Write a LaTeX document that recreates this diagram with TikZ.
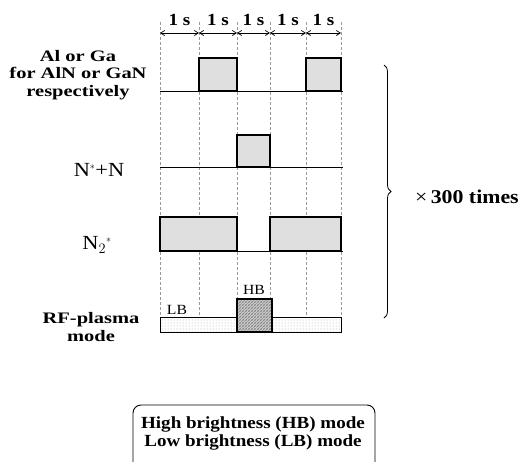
\documentclass[tikz,border=0pt]{standalone}
\usepackage{fontspec}
\setmainfont[FakeStretch=1.12]{Liberation Serif}
\newfontfamily\widefont[FakeStretch=1.28]{Liberation Serif}
\usetikzlibrary{patterns,decorations.pathreplacing,arrows.meta,calc}
\tikzset{
  lbl/.style={font=\widefont\fontsize{16}{17.5}\selectfont\bfseries, align=center, inner sep=0pt},
  sec/.style={font=\fontsize{17}{17}\selectfont\bfseries, inner sep=0pt},
  small/.style={font=\fontsize{14}{14}\selectfont, inner sep=0pt},
  grid/.style={gray!80, line width=0.6pt, dash pattern=on 3pt off 2pt},
  base/.style={line width=0.8pt},
  pulse/.style={line width=1.8pt, fill=gray!25},
  dim/.style={{Straight Barb[length=4pt,width=5pt]}-{Straight Barb[length=4pt,width=5pt]}, line width=0.7pt},
}
\begin{document}
\begin{tikzpicture}[x=1pt,y=-1pt]
\useasboundingbox (0,0) rectangle (528,461);
\clip (0,0) rectangle (528,461);
% time marks
\foreach \n/\x in {0/160,1/199,2/237,3/270,4/306,5/341}{
  \coordinate (t\n) at (\x,33);
  \coordinate (b\n) at (\x,317);
  \draw[grid] (\x,22) -- (b\n);
}
% dimension arrows and labels
\foreach \a/\b in {0/1,1/2,2/3,3/4,4/5}{
  \draw[dim] (t\a) -- (t\b);
  \node[sec] (s\a) at ($(t\a)!0.5!(t\b)+(0,-13)$) {1 s};
}
% Al/Ga row
\coordinate (a0) at (160,91); \coordinate (a1) at (343,91);
\draw[base] (a0) -- (a1);
\draw[pulse] (199,58) rectangle (237,91);
\draw[pulse] (306,58) rectangle (341,91);
\node[lbl] (lal) at (78,75) {Al or Ga\\for AlN or GaN\\respectively};
% N*+N row
\coordinate (n0) at (160,167); \coordinate (n1) at (343,167);
\draw[base] (n0) -- (n1);
\draw[pulse] (237,135) rectangle (270,167);
\node[font=\fontsize{20}{20}\selectfont, inner sep=0pt] (lnn) at (99,170) {N$^{\scriptscriptstyle *}$+N};
% N2* row
\coordinate (m0) at (160,251); \coordinate (m1) at (343,251);
\draw[base] (m0) -- (m1);
\draw[pulse] (160,217) rectangle (237,251);
\draw[pulse] (270,217) rectangle (341,251);
\node[font=\fontsize{20}{20}\selectfont, inner sep=0pt] (ln2) at (97,245) {N$_2$$^{\scriptscriptstyle *}$};
% RF plasma row
\draw[line width=0.8pt, pattern=dots, pattern color=gray!70] (160,317) rectangle (341,332);
\fill[gray!35] (237,299) rectangle (272,332);
\fill[pattern=north east lines, pattern color=gray!95!black] (237,299) rectangle (272,332);
\fill[pattern=north west lines, pattern color=gray!70] (237,299) rectangle (272,332);
\draw[line width=1.8pt] (237,299) rectangle (272,332);
\node[small] (lhb) at (254,290) {HB};
\node[small] (llb) at (177,310) {LB};
\node[lbl] (lrf) at (91,327) {RF-plasma\\mode};
% brace
\coordinate (br0) at (384,65); \coordinate (br1) at (384,318);
\draw[line width=0.8pt, decorate, decoration={brace, amplitude=7pt}] (br0) -- (br1);
\node[font=\fontsize{19.5}{19.5}\selectfont, inner sep=0pt, anchor=west] (ltimes) at (415,197) {×\,\textbf{300 times}};
% legend
\draw[line width=0.9pt, rounded corners=8pt] (133,405) rectangle (375,485);
\node[sec] (lg1) at (253,424) {High brightness (HB) mode};
\node[sec] (lg2) at (253,442) {Low brightness (LB) mode};
\end{tikzpicture}
\end{document}
